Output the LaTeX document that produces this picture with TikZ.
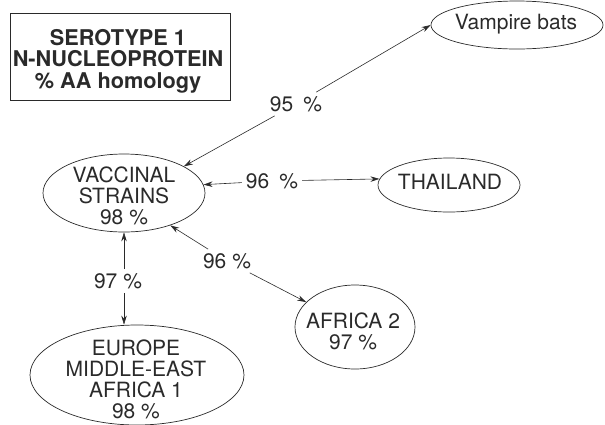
\documentclass[tikz,border=0pt]{standalone}
\usepackage{fontspec}
\setmainfont{TeX Gyre Heros}
\usetikzlibrary{shapes.geometric,arrows.meta}
\definecolor{ink}{HTML}{2A2A2A}
\begin{document}
\begin{tikzpicture}[x=1pt,y=-1pt,
  every node/.style={text=ink, font=\fontsize{21}{21}\selectfont},
  oval/.style={ellipse, draw=ink, line width=0.7pt, inner sep=0pt},
  txt/.style={align=center, inner sep=0pt},
  lbl/.style={inner sep=4pt},
  arr/.style={draw=ink, line width=0.6pt, -{Stealth[length=9pt,width=5.5pt]}}]
\useasboundingbox (0,0) rectangle (605,424);

% title
\node[draw=ink, line width=0.8pt, minimum width=220pt, minimum height=87pt, inner sep=0pt] (titlebox) at (120,56.5) {};
\node[txt, font=\fontsize{21.7}{21.5}\selectfont\bfseries] (title) at (118,61) {SEROTYPE 1\\N-NUCLEOPROTEIN\\\% AA homology};

% ellipses
\node[oval, minimum width=172pt, minimum height=48pt] (vamp) at (517,25) {};
\node[txt] (vampt) at (516,24) {Vampire bats};

\node[oval, minimum width=162pt, minimum height=78pt] (vac) at (124,193) {};
\node[txt] (vact) at (124,196) {VACCINAL\\STRAINS\\98 \%};

\node[oval, minimum width=142pt, minimum height=54pt] (thai) at (449,185) {};
\node[txt] (thait) at (450,182) {THAILAND};

\node[oval, minimum width=120pt, minimum height=84pt] (afr) at (355,327) {};
\node[txt] (afrt) at (353,331) {AFRICA 2\\97 \%};

\node[oval, minimum width=214pt, minimum height=100pt] (eur) at (137,375) {};
\node[txt] (eurt) at (136,379) {EUROPE\\MIDDLE-EAST\\AFRICA 1\\98 \%};

% labels
\node[lbl] (l95) at (296,104) {95\hspace{10pt}\%};
\node[lbl] (l96h) at (272,181) {96\hspace{10pt}\%};
\node[lbl] (l96d) at (227,261) {96 \%};
\node[lbl] (l97) at (118,281) {97 \%};

% connectors
\draw[arr] (l95) -- (vac.24);
\draw[arr] (l95) -- (vamp.west);
\draw[arr] (l96h) -- (vac.6);
\draw[arr] (l96h) -- (thai.175);
\draw[arr] (l96d) -- (vac.-35);
\draw[arr] (l96d) -- (afr.153);
\draw[arr] (l97.north -| vac.south) -- (vac.south);
\draw[arr] (l97.south -| vac.south) -- (vac.south |- eur.north);
\end{tikzpicture}
\end{document}
